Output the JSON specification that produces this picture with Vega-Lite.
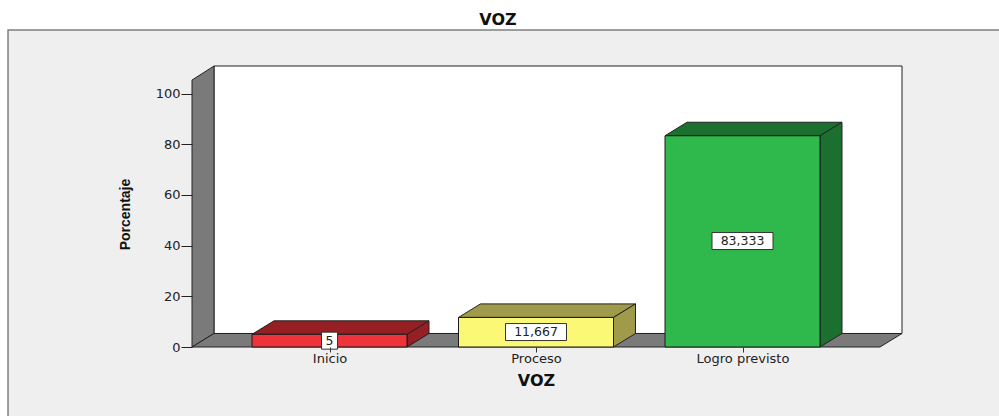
{
"$schema":"https://vega.github.io/schema/vega-lite/v6.json",
"width":710,"height":281,
"autosize":{"type":"none"},
"padding":{"left":192,"top":66,"right":97,"bottom":69},
"background":"#ffffff",
"config":{"view":{"stroke":null}},
"title":{"text":"VOZ","anchor":"middle","frame":"group","dx":-49,"offset":1,"font":"DejaVu Sans","fontSize":16,"fontWeight":"bold","color":"#111111"},
"datasets":{
"bars":[
{"u":1,"categoria":"Inicio","valor":5,"centro":2.5,"etiqueta":"5"},
{"u":2,"categoria":"Proceso","valor":11.667,"centro":5.9,"etiqueta":"11,667"},
{"u":3,"categoria":"Logro previsto","valor":83.333,"centro":41.8,"etiqueta":"83,333"}
],
"faces":[
{"face":"pared","px":0.4407,"hi":110.85,"lo":5.33},
{"face":"pared","px":3.7724,"hi":110.85,"lo":5.33},
{"face":"izquierda","px":0.3341,"hi":105.3,"lo":0},
{"face":"izquierda","px":0.4407,"hi":110.85,"lo":5.33},
{"face":"suelo","px":0.3341,"hi":0,"lo":0},
{"face":"suelo","px":0.4407,"hi":5.33,"lo":0},
{"face":"suelo","px":3.6659,"hi":5.33,"lo":0},
{"face":"suelo","px":3.7724,"hi":5.33,"lo":5.33},
{"face":"Inicio arriba","px":0.6247,"hi":5,"lo":5},
{"face":"Inicio arriba","px":0.7312,"hi":10.33,"lo":5},
{"face":"Inicio arriba","px":1.3753,"hi":10.33,"lo":5},
{"face":"Inicio arriba","px":1.4818,"hi":10.33,"lo":10.33},
{"face":"Inicio lado","px":1.3753,"hi":5,"lo":0},
{"face":"Inicio lado","px":1.4818,"hi":10.33,"lo":5.33},
{"face":"Proceso arriba","px":1.6247,"hi":11.667,"lo":11.667},
{"face":"Proceso arriba","px":1.7312,"hi":17,"lo":11.667},
{"face":"Proceso arriba","px":2.3753,"hi":17,"lo":11.667},
{"face":"Proceso arriba","px":2.4818,"hi":17,"lo":17},
{"face":"Proceso lado","px":2.3753,"hi":11.667,"lo":0},
{"face":"Proceso lado","px":2.4818,"hi":17,"lo":5.33},
{"face":"Logro arriba","px":2.6247,"hi":83.333,"lo":83.333},
{"face":"Logro arriba","px":2.7312,"hi":88.663,"lo":83.333},
{"face":"Logro arriba","px":3.3753,"hi":88.663,"lo":83.333},
{"face":"Logro arriba","px":3.4818,"hi":88.663,"lo":88.663},
{"face":"Logro lado","px":3.3753,"hi":83.333,"lo":0},
{"face":"Logro lado","px":3.4818,"hi":88.663,"lo":5.33}
]
},
"data":{"name":"bars"},
"layer":[
{"data":{"values":[{"a":-0.5569,"b":4.8,"c":125.05,"d":-50}]},
 "mark":{"type":"rect","fill":"#efefef","stroke":"#808080","strokeWidth":1.5},
 "encoding":{"x":{"field":"a","type":"quantitative","scale":{"domain":[0.3341,3.7724],"nice":false,"zero":false,"padding":0},
   "axis":{"values":[1,2,3],"labelExpr":"datum.value==1?'Inicio':datum.value==2?'Proceso':'Logro previsto'","title":"VOZ","titleFont":"DejaVu Sans","titleFontSize":16,"titleFontWeight":"bold","titleColor":"#111111","titleX":344,"titleY":25,"labelFont":"DejaVu Sans","labelFontSize":13,"labelColor":"#222222","labelPadding":0,"tickSize":5,"tickColor":"#333333","domain":false,"grid":false,"zindex":1,"labelFlush":false,"labelOverlap":false}},
  "x2":{"field":"b"},
  "y":{"field":"c","type":"quantitative","scale":{"domain":[0,110.85],"nice":false,"zero":false},
   "axis":{"values":[0,20,40,60,80,100],"title":"Porcentaje","titleFont":"Liberation Sans","titleFontSize":14,"titleFontWeight":"bold","titleColor":"#111111","titleX":-60,"titleY":148,"labelFont":"DejaVu Sans","labelFontSize":13,"labelColor":"#222222","labelPadding":1,"tickSize":11,"tickColor":"#222222","domain":false,"grid":false,"zindex":1}},
  "y2":{"field":"d"}}},
{"data":{"name":"faces"},
 "mark":{"type":"area","orient":"vertical","stroke":"#222222","strokeWidth":1,"clip":false},
 "encoding":{"x":{"field":"px","type":"quantitative"},"y":{"field":"hi","type":"quantitative","stack":null},"y2":{"field":"lo"},
  "detail":{"field":"face","type":"nominal"},
  "fill":{"field":"face","type":"nominal","legend":null,"sort":null,"scale":{
   "domain":["pared","izquierda","suelo","Inicio arriba","Inicio lado","Proceso arriba","Proceso lado","Logro arriba","Logro lado"],
   "range":["#ffffff","#7a7a7a","#7a7a7a","#951f22","#951f22","#9f9b4a","#9f9b4a","#1c702f","#1c702f"]}}}},
{"mark":{"type":"bar","orient":"vertical","width":155,"stroke":"#1a1a1a","strokeWidth":1},
 "encoding":{"x":{"field":"u","type":"quantitative"},"y":{"field":"valor","type":"quantitative"},
  "color":{"field":"categoria","type":"nominal","legend":null,"scale":{"domain":["Inicio","Proceso","Logro previsto"],"range":["#ef333a","#fbf875","#2fb84b"]}}}},
{"transform":[{"filter":"datum.u==1"}],
 "mark":{"type":"rect","width":16,"height":17,"fill":"#ffffff","stroke":"#333333","strokeWidth":1},
 "encoding":{"x":{"field":"u","type":"quantitative"},"y":{"field":"centro","type":"quantitative"}}},
{"transform":[{"filter":"datum.u>1"}],
 "mark":{"type":"rect","width":61,"height":17,"fill":"#ffffff","stroke":"#333333","strokeWidth":1},
 "encoding":{"x":{"field":"u","type":"quantitative"},"y":{"field":"centro","type":"quantitative"}}},
{"mark":{"type":"text","font":"DejaVu Sans","fontSize":12.5,"color":"#222222","align":"center","baseline":"middle"},
 "encoding":{"x":{"field":"u","type":"quantitative"},"y":{"field":"centro","type":"quantitative"},"text":{"field":"etiqueta","type":"nominal"}}}
]
}
